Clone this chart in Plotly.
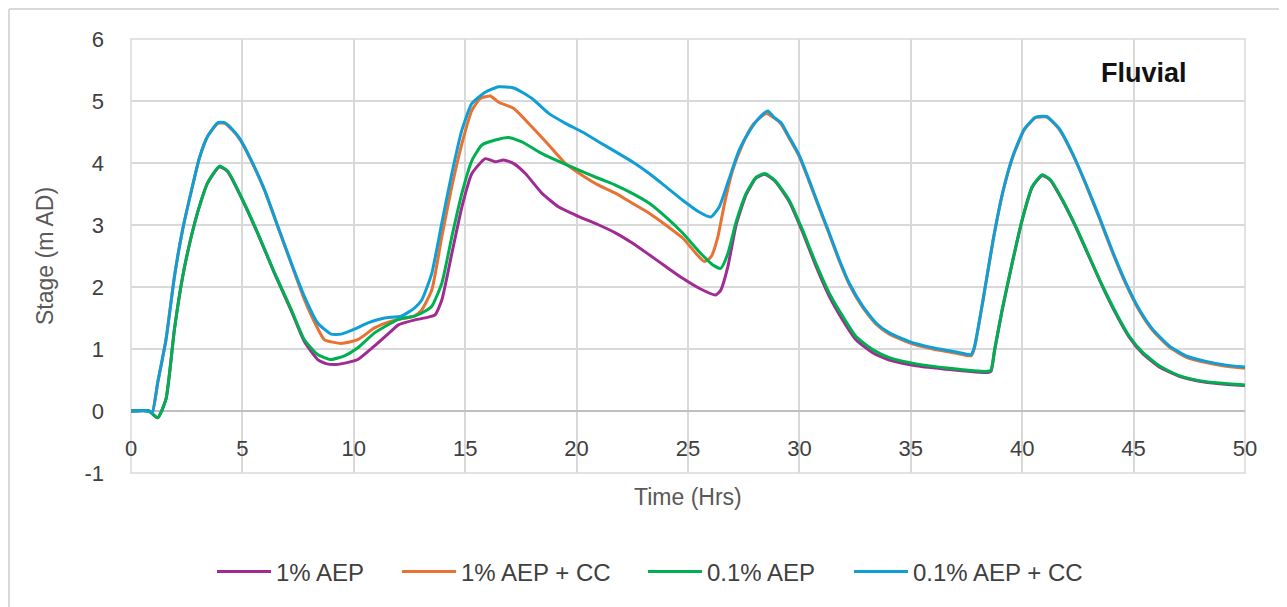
import plotly.graph_objects as go

# ---- data (time in hours, stage in m AD) ----
series_names = ["1% AEP", "1% AEP + CC", "0.1% AEP", "0.1% AEP + CC"]
series_colors = ["#A02B93", "#E97132", "#00B050", "#0F9ED5"]

aep1_pts = [(0,0),(0.8,0),(1.2,-0.11),(1.57,0.19),(1.95,1.32),(2.32,2.17),(2.69,2.79),(3.07,3.30),
    (3.44,3.68),(3.97,3.94),(4.34,3.86),(4.94,3.45),(5.69,2.86),(6.44,2.22),(7.19,1.62),(7.78,1.12),
    (8.38,0.83),(8.8,0.76),(9.2,0.75),(9.7,0.78),(10.18,0.83),(10.93,1.05),(11.68,1.29),(12.0,1.39),
    (12.75,1.47),(13.3,1.51),(13.65,1.55),(13.95,1.79),(14.4,2.54),(14.85,3.29),(15.3,3.83),(15.9,4.07),
    (16.35,4.02),(16.73,4.05),(17.18,3.99),(17.7,3.83),(18.45,3.51),(19.2,3.29),(19.95,3.16),(21.0,3.0),
    (21.76,2.87),(22.5,2.71),(23.26,2.52),(24.0,2.33),(24.76,2.14),(25.5,1.98),(26.24,1.87),(26.47,1.95),
    (26.79,2.33),(27.16,3.0),(27.61,3.49),(28.06,3.76),(28.45,3.82),(28.9,3.71),(29.54,3.38),(30.14,2.89),
    (30.74,2.34),(31.34,1.85),(31.94,1.47),(32.54,1.15),(33.29,0.94),(34.04,0.82),(35.24,0.73),(36.74,0.67),
    (38.45,0.62),(38.6,0.64),(38.76,0.97),(39.1,1.62),(39.55,2.38),(40.0,3.08),(40.45,3.61),(40.9,3.80),
    (41.27,3.72),(41.8,3.40),(42.4,2.97),(43.0,2.49),(43.6,2.01),(44.2,1.57),(44.8,1.19),(45.4,0.93),
    (46.15,0.71),(47.05,0.56),(47.95,0.48),(48.85,0.44),(50,0.41)]

aep1_cc_pts = [(0,0),(0.8,0),(0.95,-0.03),(1.2,0.46),(1.57,1.15),(1.95,2.17),(2.32,2.93),(2.69,3.52),
    (3.07,4.08),(3.44,4.43),(3.9,4.64),(4.2,4.64),(4.5,4.55),(4.87,4.39),(5.39,4.04),(5.99,3.56),(6.59,2.97),
    (7.19,2.38),(7.78,1.80),(8.38,1.33),(8.68,1.15),(9.43,1.09),(10.18,1.15),(10.93,1.34),(11.68,1.45),
    (12.72,1.53),(13.05,1.63),(13.5,1.95),(13.95,2.81),(14.4,3.62),(14.85,4.31),(15.3,4.85),(15.68,5.04),
    (16.13,5.08),(16.5,4.98),(17.18,4.88),(18.0,4.58),(18.75,4.29),(19.5,3.99),(20.26,3.80),(21.0,3.64),
    (21.76,3.51),(22.5,3.35),(23.26,3.19),(24.0,3.0),(24.76,2.79),(25.36,2.54),(25.74,2.41),(26.04,2.49),
    (26.34,2.81),(26.64,3.35),(27.0,3.88),(27.46,4.31),(27.9,4.61),(28.51,4.80),(28.89,4.72),(29.18,4.63),
    (29.54,4.40),(30.0,4.10),(30.44,3.70),(30.89,3.27),(31.34,2.85),(31.79,2.42),(32.24,2.04),(32.84,1.67),
    (33.44,1.40),(34.04,1.24),(34.94,1.10),(35.99,1.00),(37.04,0.93),(37.71,0.89),(37.86,1.02),(38.24,1.78),
    (38.69,2.74),(39.14,3.54),(39.59,4.11),(40.1,4.54),(40.6,4.73),(41.1,4.74),(41.65,4.55),(42.25,4.15),
    (42.85,3.66),(43.45,3.12),(44.05,2.56),(44.65,2.05),(45.25,1.62),(45.85,1.30),(46.6,1.03),(47.35,0.87),
    (48.25,0.78),(49.15,0.72),(50,0.69)]

aep01_pts = [(0,0),(0.8,0),(1.2,-0.11),(1.57,0.19),(1.95,1.32),(2.32,2.17),(2.69,2.79),(3.07,3.30),
    (3.44,3.68),(3.97,3.95),(4.34,3.87),(4.94,3.46),(5.69,2.87),(6.44,2.23),(7.19,1.64),(7.78,1.15),
    (8.38,0.91),(8.98,0.83),(9.58,0.89),(10.18,1.02),(10.93,1.26),(11.68,1.42),(12.0,1.48),(12.72,1.53),
    (13.05,1.58),(13.5,1.69),(13.95,2.06),(14.4,2.81),(14.85,3.51),(15.3,4.04),(15.75,4.29),(16.35,4.37),
    (16.95,4.41),(17.55,4.34),(18.3,4.18),(19.05,4.05),(19.95,3.91),(21.0,3.75),(21.76,3.64),(22.5,3.51),
    (23.26,3.35),(24.0,3.13),(24.76,2.87),(25.5,2.57),(26.1,2.36),(26.47,2.30),(26.79,2.54),(27.16,3.05),
    (27.61,3.51),(28.06,3.77),(28.45,3.83),(28.9,3.72),(29.54,3.40),(30.14,2.92),(30.74,2.38),(31.34,1.90),
    (31.94,1.53),(32.54,1.20),(33.29,0.99),(34.04,0.86),(35.24,0.76),(36.74,0.69),(38.45,0.64),(38.6,0.66),
    (38.76,0.99),(39.1,1.64),(39.55,2.39),(40.0,3.09),(40.45,3.62),(40.9,3.81),(41.27,3.73),(41.8,3.41),
    (42.4,2.98),(43.0,2.50),(43.6,2.02),(44.2,1.59),(44.8,1.21),(45.4,0.95),(46.15,0.73),(47.05,0.57),
    (47.95,0.49),(48.85,0.45),(50,0.42)]

aep01_cc_pts = [(0,0),(0.8,0),(0.95,-0.03),(1.2,0.46),(1.57,1.15),(1.95,2.17),(2.32,2.93),(2.69,3.52),
    (3.07,4.08),(3.44,4.43),(3.9,4.65),(4.2,4.65),(4.5,4.56),(4.87,4.40),(5.39,4.05),(5.99,3.57),(6.59,2.98),
    (7.19,2.39),(7.78,1.85),(8.38,1.42),(8.98,1.24),(9.43,1.24),(10.03,1.32),(10.63,1.42),(11.38,1.50),
    (12.13,1.53),(12.72,1.66),(13.05,1.79),(13.5,2.22),(13.95,3.03),(14.4,3.83),(14.85,4.53),(15.3,4.96),
    (15.9,5.14),(16.5,5.23),(17.18,5.21),(18.0,5.04),(18.75,4.80),(19.5,4.64),(20.26,4.50),(21.0,4.34),
    (21.76,4.18),(22.5,4.02),(23.26,3.83),(24.0,3.62),(24.76,3.40),(25.5,3.21),(26.03,3.13),(26.4,3.29),
    (26.85,3.75),(27.3,4.21),(27.75,4.51),(28.2,4.73),(28.58,4.84),(28.88,4.73),(29.18,4.65),(29.54,4.42),
    (30.0,4.12),(30.44,3.72),(30.89,3.29),(31.34,2.87),(31.79,2.44),(32.24,2.06),(32.84,1.69),(33.44,1.42),
    (34.04,1.26),(34.94,1.12),(35.99,1.02),(37.04,0.95),(37.71,0.91),(37.86,1.04),(38.24,1.79),(38.69,2.75),
    (39.14,3.55),(39.59,4.12),(40.1,4.55),(40.6,4.74),(41.1,4.75),(41.65,4.56),(42.25,4.16),(42.85,3.67),
    (43.45,3.14),(44.05,2.58),(44.65,2.07),(45.25,1.64),(45.85,1.32),(46.6,1.05),(47.35,0.89),(48.25,0.80),
    (49.15,0.74),(50,0.71)]

x_ticks = list(range(0, 51, 5))
y_ticks = list(range(-1, 7))
y_tick_text = [str(v) for v in y_ticks]

all_series = [aep1_pts, aep1_cc_pts, aep01_pts, aep01_cc_pts]

# ---- figure ----
fig = go.Figure()
legend_ids = ["legend", "legend2", "legend3", "legend4"]
legend_x = [0.0727, 0.2388, 0.4596, 0.6445]

for pts, name, color, lid in zip(all_series, series_names, series_colors, legend_ids):
    xs = [p[0] for p in pts]
    ys = [p[1] for p in pts]
    fig.add_trace(go.Scatter(x=xs, y=ys, mode="lines", name=name,
                             line=dict(color=color, width=3, shape="spline", smoothing=0.5),
                             legend=lid))

FONT = "Liberation Sans, Arial, sans-serif"
legend_common = dict(orientation="h", yanchor="middle", y=-0.228, xanchor="left",
                     font=dict(family=FONT, size=24, color="#404040"),
                     bgcolor="rgba(0,0,0,0)", borderwidth=0, itemwidth=54,
                     itemclick=False, itemdoubleclick=False)

layout_legends = {}
for lid, lx in zip(legend_ids, legend_x):
    d = dict(legend_common)
    d["x"] = lx
    layout_legends[lid] = d

fig.update_layout(
    width=1279, height=599,
    margin=dict(l=123, r=42, t=31, b=134),
    paper_bgcolor="white", plot_bgcolor="white",
    showlegend=True,
    **layout_legends,
    xaxis=dict(range=[0, 50], tickvals=x_ticks, showgrid=True, gridcolor="#d9d9d9", gridwidth=1.5,
               zeroline=False, showline=False, anchor="free", position=1/7,
               ticks="", ticklabelstandoff=22,
               tickfont=dict(family=FONT, size=22, color="#404040")),
    yaxis=dict(range=[-1, 6], tickvals=y_ticks, ticktext=y_tick_text, showgrid=True,
               gridcolor="#d9d9d9", gridwidth=1.5,
               zeroline=True, zerolinecolor="#bfbfbf", zerolinewidth=2, showline=False,
               ticks="", ticklabelstandoff=26, domain=[0, 1],
               tickfont=dict(family=FONT, size=22, color="#404040")),
    font=dict(family=FONT),
)

# plot-area border
fig.add_shape(type="rect", xref="paper", yref="paper", x0=0, y0=0, x1=1, y1=1,
              line=dict(color="#d9d9d9", width=1.5), layer="below")
# outer chart border (top and left)
fig.add_shape(type="line", xref="paper", yref="paper", x0=-0.1095, x1=1.04, y0=1.0691, y1=1.0691,
              line=dict(color="#d9d9d9", width=2))
fig.add_shape(type="line", xref="paper", yref="paper", x0=-0.1095, x1=-0.1095, y0=-0.32, y1=1.0691,
              line=dict(color="#d9d9d9", width=2))

# axis titles
fig.add_annotation(text="Time (Hrs)", xref="paper", yref="paper", x=0.5, y=-0.0553,
                   xanchor="center", yanchor="middle", showarrow=False,
                   font=dict(family=FONT, size=23, color="#595959"))
fig.add_annotation(text="Stage (m AD)", xref="paper", yref="paper", x=-0.0772, y=0.5,
                   xanchor="center", yanchor="middle", showarrow=False, textangle=-90,
                   font=dict(family=FONT, size=23, color="#595959"))
# label
fig.add_annotation(text="<b>Fluvial</b>", xref="paper", yref="paper", x=0.909, y=0.9217,
                   xanchor="center", yanchor="middle", showarrow=False,
                   font=dict(family=FONT, size=27, color="#111111"))

fig.write_html("out.html")
